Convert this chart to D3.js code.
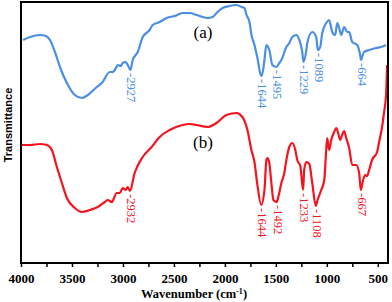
<!DOCTYPE html>
<html>
<head>
<meta charset="utf-8">
<script src="https://cdn.jsdelivr.net/npm/d3@7"></script>
<style>
  body { margin: 0; background: #fff; }
  svg { display: block; }
</style>
</head>
<body>
<div id="chart"></div>
<script>
// frame size + plot box
const FRAME_WIDTH = 392;
const FRAME_HEIGHT = 302;
const BOX = {left: 21, right: 388, top: 2, bottom: 263};

// spectrum (a), wavenumber in cm-1 and transmittance (a.u.)
const waveA = [3980, 3912, 3814, 3755, 3716, 3667, 3618, 3550, 3472, 3403, 3344, 3256, 3207, 3129, 3100,
  3080, 3051, 3021, 3002, 2973, 2953, 2927, 2904, 2855, 2806, 2738, 2708, 2640, 2571, 2493, 2415, 2346,
  2278, 2219, 2170, 2121, 2072, 2023, 1955, 1886, 1837, 1808, 1788, 1759, 1739, 1710, 1681, 1644, 1622,
  1612, 1593, 1583, 1564, 1534, 1495, 1466, 1446, 1397, 1368, 1339, 1299, 1270, 1241, 1229, 1201, 1192,
  1143, 1104, 1089, 1065, 1045, 1006, 977, 947, 918, 898, 879, 859, 830, 800, 781, 751, 702, 673, 664,
  654, 634, 585, 517, 468, 419];
const transA = [111.5, 113, 114, 113.5, 111.5, 105.5, 98, 90, 84, 82.5, 84, 88, 90, 95.5, 95.5,
  96.5, 99, 98.5, 100, 100.5, 99, 96.5, 101.5, 105.5, 113, 116.5, 119, 120.5, 122.5, 123.5, 125, 125,
  124, 123, 122.5, 123, 125.5, 127.5, 128.5, 129, 128, 127.5, 124, 120.5, 114, 109, 102.5, 93.5, 97.5,
  101.5, 109, 108.5, 106.5, 99, 98, 100, 101.5, 108, 110, 113, 114, 111.5, 105.5, 100.5, 106.5, 110,
  115.5, 113, 106.5, 108, 115, 120, 121.5, 115.5, 114, 120, 117.5, 114, 118, 115.5, 115.5, 110.5, 109, 104, 101.5,
  103, 105.5, 106.5, 107.5, 108, 109];

// spectrum (b)
const waveB = [4000, 3912, 3814, 3746, 3697, 3648, 3599, 3550, 3472, 3403, 3325, 3247, 3178, 3149, 3110,
  3061, 3031, 3002, 2973, 2953, 2932, 2885, 2806, 2718, 2640, 2542, 2415, 2346, 2278, 2170, 2082, 1984,
  1886, 1828, 1779, 1740, 1710, 1681, 1644, 1612, 1593, 1583, 1564, 1544, 1524, 1492, 1476, 1446, 1417,
  1397, 1368, 1339, 1309, 1290, 1260, 1233, 1222, 1201, 1172, 1143, 1108, 1094, 1055, 1025, 1006, 996,
  977, 957, 928, 908, 889, 869, 850, 830, 810, 781, 751, 712, 683, 667, 644, 625, 605, 585, 556, 507,
  487, 458, 438, 419, 409];
const transB = [59, 59, 59.5, 59, 56.5, 48, 40, 32.5, 27.5, 25.5, 26.5, 28, 30.5, 31.5, 30.5,
  35, 35, 37.5, 36.5, 38, 36, 45, 53, 58, 63, 66.5, 69, 69.5, 69, 68, 70, 74,
  75, 73, 66.5, 56.5, 50.5, 39, 29, 36.5, 51.5, 52.5, 50, 40, 31.5, 30.5, 33, 40, 45,
  51.5, 58, 60, 56.5, 51.5, 48.5, 36.5, 46.5, 50.5, 49.5, 40, 28.5, 31, 36.5, 41.5, 56.5, 62.5,
  56.5, 61.5, 65.5, 67.5, 65, 61.5, 64, 66, 62.5, 57.5, 49, 49, 45, 36.5, 41.5, 44, 43.5, 46.5, 51.5, 55.5,
  60.5, 68, 75.5, 84, 99];

// labelled bands
const peaksA = [2927, 1644, 1495, 1229, 1089, 664];
const peaksB = [2932, 1644, 1492, 1233, 1108, 667];

// x ticks (every 250, labels every 500)
const xTicks = [4000, 3750, 3500, 3250, 3000, 2750, 2500, 2250, 2000, 1750, 1500, 1250, 1000, 750, 500];

const BLUE = "#4a8ee6";
const RED = "#f5141e";

const svg = d3.select("#chart")
  .append("svg")
    .attr("width", FRAME_WIDTH)
    .attr("height", FRAME_HEIGHT);

const X_SCALE = d3.scaleLinear()
  .domain([4000, 400])
  .range([BOX.left, BOX.right]);

const Y_SCALE = d3.scaleLinear()
  .domain([0, 130.5])
  .range([BOX.bottom, BOX.top]);

const line = d3.line()
  .x(d => X_SCALE(d[0]))
  .y(d => Y_SCALE(d[1]))
  .curve(d3.curveMonotoneX);

// draw a spectrum + its peak labels
function drawSpectrum(waves, trans, peaks, color) {
  const pts = waves.map((w, i) => [w, trans[i]]);
  svg.append("path")
    .datum(pts)
    .attr("fill", "none")
    .attr("stroke", color)
    .attr("stroke-width", 2.2)
    .attr("stroke-linejoin", "round")
    .attr("d", line);

  svg.selectAll(null)
    .data(peaks)
    .enter()
    .append("text")
      .attr("transform", p => {
        const t = trans[waves.indexOf(p)];
        return "translate(" + (X_SCALE(p) + 1) + "," + (Y_SCALE(t) + 3) + ") rotate(90)";
      })
      .attr("dominant-baseline", "central")
      .attr("font-family", "'Liberation Serif', 'Times New Roman', serif")
      .attr("font-size", "12.5px")
      .attr("fill", color)
      .text(p => "-" + p);
}

drawSpectrum(waveA, transA, peaksA, BLUE);
drawSpectrum(waveB, transB, peaksB, RED);

// (a) / (b) tags
svg.append("text")
  .attr("x", 203).attr("y", 38)
  .attr("text-anchor", "middle")
  .attr("font-family", "'Liberation Serif', serif")
  .attr("font-size", "17px")
  .text("(a)");

svg.append("text")
  .attr("x", 203).attr("y", 148)
  .attr("text-anchor", "middle")
  .attr("font-family", "'Liberation Serif', serif")
  .attr("font-size", "17px")
  .text("(b)");

// x axis
const xAxis = svg.append("g")
  .attr("transform", "translate(0," + BOX.bottom + ")")
  .call(d3.axisBottom(X_SCALE)
    .tickValues(xTicks)
    .tickSize(4)
    .tickSizeOuter(0)
    .tickPadding(7)
    .tickFormat(d => d % 500 === 0 ? d : ""));

xAxis.select(".domain").remove();
xAxis.selectAll("line").attr("stroke", "#000").attr("stroke-width", 1.5);
xAxis.selectAll("text")
  .attr("font-family", "'Liberation Serif', serif")
  .attr("font-weight", "bold")
  .attr("font-size", "13px")
  .attr("fill", "#000");

// plot box
svg.append("rect")
  .attr("x", BOX.left)
  .attr("y", BOX.top)
  .attr("width", BOX.right - BOX.left)
  .attr("height", BOX.bottom - BOX.top)
  .attr("fill", "none")
  .attr("stroke", "#000")
  .attr("stroke-width", 2);

// axis titles
const xTitle = svg.append("text")
  .attr("x", 194).attr("y", 298)
  .attr("text-anchor", "middle")
  .attr("font-family", "'Liberation Serif', serif")
  .attr("font-weight", "bold")
  .attr("font-size", "12.5px");
xTitle.append("tspan").text("Wavenumber (cm");
xTitle.append("tspan").attr("dy", -4).attr("font-size", "8px").text("-1");
xTitle.append("tspan").attr("dy", 4).text(")");

svg.append("text")
  .attr("transform", "translate(12,125) rotate(-90)")
  .attr("text-anchor", "middle")
  .attr("font-family", "'Liberation Sans', Arial, sans-serif")
  .attr("font-weight", "bold")
  .attr("font-size", "11px")
  .text("Transmittance");
</script>
</body>
</html>
